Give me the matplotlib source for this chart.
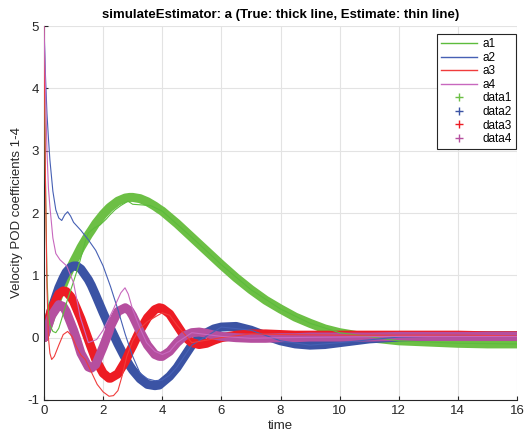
import matplotlib
matplotlib.use("Agg")
import matplotlib.pyplot as plt
from matplotlib.lines import Line2D

plt.rcParams['font.family'] = ['Liberation Sans', 'DejaVu Sans']
plt.rcParams['axes.unicode_minus'] = False

# true coefficients (thick)
t_true = [0, 0.25, 0.5, 0.65, 0.75, 0.9, 1.0, 1.1, 1.25, 1.5, 1.6, 1.75, 2.0, 2.2, 2.25,
          2.5, 2.75, 2.9, 3.0, 3.25, 3.5, 3.75, 3.9, 4.0, 4.25, 4.5, 4.75, 5.0, 5.25, 5.5,
          5.75, 6.0, 6.5, 7, 7.5, 8, 8.5, 9, 9.5, 10, 11, 12, 13, 14, 15, 16]
a1_true = [0, 0.35, 0.68, 0.85, 0.97, 1.12, 1.22, 1.31, 1.45, 1.65, 1.72, 1.83, 1.98, 2.08,
           2.1, 2.19, 2.24, 2.25, 2.25, 2.23, 2.18, 2.11, 2.06, 2.03, 1.93, 1.83, 1.72, 1.61,
           1.5, 1.39, 1.28, 1.17, 0.96, 0.77, 0.6, 0.46, 0.33, 0.23, 0.14, 0.08, 0.0, -0.05,
           -0.07, -0.09, -0.1, -0.1]
a2_true = [0, 0.45, 0.8, 0.96, 1.05, 1.13, 1.15, 1.15, 1.1, 0.93, 0.84, 0.68, 0.4, 0.19,
           0.15, -0.1, -0.33, -0.45, -0.52, -0.66, -0.75, -0.77, -0.76, -0.72, -0.62, -0.48,
           -0.3, -0.12, 0.0, 0.08, 0.14, 0.17, 0.18, 0.12, 0.03, -0.05, -0.1, -0.12, -0.11,
           -0.08, -0.02, 0.01, 0.02, 0.03, 0.03, 0.03]
a3_true = [0, 0.45, 0.7, 0.75, 0.74, 0.66, 0.58, 0.47, 0.3, -0.03, -0.16, -0.35, -0.57,
           -0.65, -0.65, -0.58, -0.38, -0.22, -0.13, 0.12, 0.32, 0.45, 0.48, 0.47, 0.38,
           0.2, 0.02, -0.08, -0.11, -0.09, -0.04, 0.0, 0.04, 0.06, 0.06, 0.05, 0.04, 0.04,
           0.04, 0.04, 0.04, 0.04, 0.04, 0.04, 0.03, 0.03]
a4_true = [0, 0.35, 0.53, 0.5, 0.42, 0.24, 0.12, -0.02, -0.25, -0.47, -0.49, -0.43, -0.15,
           0.1, 0.18, 0.42, 0.48, 0.43, 0.35, 0.1, -0.12, -0.27, -0.3, -0.3, -0.22, -0.08,
           0.03, 0.08, 0.09, 0.07, 0.04, 0.02, 0.0, -0.01, -0.01, 0.0, 0.0, 0.01, 0.01,
           0.01, 0.01, 0.02, 0.02, 0.02, 0.02, 0.02]

# estimates (thin)
t_e1 = [0, 0.05, 0.1, 0.15, 0.2, 0.3, 0.4, 0.5, 0.65, 0.8, 1.0, 1.2, 1.4, 1.5, 1.7, 1.9,
        2.1, 2.23, 2.4, 2.6, 2.74, 2.84, 3.0, 3.3, 3.6, 4.0, 5, 6, 7, 8, 9, 10, 12, 14, 16]
a1_est = [5.0, 2.5, 1.0, 0.4, 0.2, 0.1, 0.08, 0.15, 0.38, 0.62, 0.9, 1.2, 1.55, 1.68, 1.76,
          1.81, 1.9, 1.97, 2.05, 2.12, 2.16, 2.19, 2.14, 2.13, 2.12, 2.03, 1.61, 1.17, 0.77,
          0.46, 0.23, 0.08, -0.05, -0.09, -0.1]
t_e2 = [0, 0.05, 0.1, 0.15, 0.2, 0.3, 0.4, 0.5, 0.6, 0.7, 0.8, 0.9, 1.0, 1.25, 1.5, 1.75,
        2.0, 2.25, 2.5, 2.75, 3.0, 3.25, 3.5, 3.75, 4.0, 4.25, 4.5, 5, 6, 7, 8, 9, 10, 12,
        14, 16]
a2_est = [5.0, 4.2, 3.6, 3.2, 2.85, 2.35, 2.05, 1.92, 1.88, 1.97, 2.02, 1.95, 1.85, 1.72,
          1.57, 1.4, 1.15, 0.82, 0.45, 0.05, -0.3, -0.57, -0.66, -0.69, -0.68, -0.6, -0.47,
          -0.12, 0.17, 0.12, -0.05, -0.12, -0.08, 0.01, 0.03, 0.03]
t_e3 = [0, 0.05, 0.1, 0.15, 0.2, 0.26, 0.35, 0.5, 0.65, 0.8, 0.95, 1.1, 1.25, 1.4, 1.6,
        1.8, 2.0, 2.2, 2.35, 2.5, 2.65, 2.8, 3.0, 3.25, 3.5, 3.75, 4.0, 4.25, 4.5, 5, 6, 7,
        8, 10, 12, 14, 16]
a3_est = [5.0, 2.5, 0.8, 0.0, -0.25, -0.35, -0.3, -0.12, 0.05, 0.1, 0.02, -0.15, -0.28,
          -0.35, -0.55, -0.75, -0.87, -0.94, -0.93, -0.85, -0.6, -0.3, -0.05, 0.15, 0.26,
          0.33, 0.4, 0.36, 0.2, -0.08, 0.0, 0.06, 0.05, 0.04, 0.04, 0.04, 0.03]
t_e4 = [0, 0.05, 0.1, 0.15, 0.2, 0.3, 0.4, 0.54, 0.77, 1.0, 1.22, 1.5, 1.78, 2.0, 2.34,
        2.6, 2.74, 2.85, 3.0, 3.25, 3.47, 3.75, 4.0, 4.25, 4.5, 5, 6, 7, 8, 10, 12, 14, 16]
a4_est = [5.0, 4.0, 3.0, 2.4, 2.1, 1.6, 1.35, 1.25, 1.15, 0.88, 0.34, -0.08, -0.03, 0.12,
          0.45, 0.72, 0.8, 0.7, 0.45, 0.15, -0.08, -0.22, -0.27, -0.22, -0.08, 0.08, 0.02,
          -0.01, 0.0, 0.01, 0.02, 0.02, 0.02]

thick_colors = ['#6cbf45', '#3b53a4', '#ed1c24', '#b54f9f']
thin_colors = ['#5cbc3c', '#4660b4', '#f03c3c', '#c868be']

fig = plt.figure(figsize=(5.29, 4.38), dpi=100)
ax = fig.add_axes([44 / 529, 38 / 438, 473 / 529, 374 / 438])

trues = [a1_true, a2_true, a3_true, a4_true]
ests = [(t_e1, a1_est), (t_e2, a2_est), (t_e3, a3_est), (t_e4, a4_est)]

for y, c in zip(trues, thick_colors):
    ax.plot(t_true, y, color=c, lw=6.5, solid_joinstyle='round',
            solid_capstyle='round', zorder=2)
for (t, y), c in zip(ests, thin_colors):
    ax.plot(t, y, color=c, lw=0.8, zorder=3)

ax.set_xlim(0, 16)
ax.set_ylim(-1, 5)
ax.set_xticks(range(0, 17, 2))
ax.set_yticks(range(-1, 6))
ax.grid(True, color='#e3e3e3', lw=0.8)
ax.set_axisbelow(True)
for s in ['top', 'right']:
    ax.spines[s].set_visible(False)
for s in ['left', 'bottom']:
    ax.spines[s].set_color('#262626')
    ax.spines[s].set_linewidth(0.8)
ax.tick_params(direction='in', length=3, width=0.8, color='#262626',
               labelcolor='#262626', labelsize=9.5)

ax.set_xlabel('time', fontsize=9.5, color='#262626', labelpad=2)
ax.set_ylabel('Velocity POD coefficients 1-4', fontsize=9.5, color='#262626', labelpad=3)
ax.set_title('simulateEstimator: a (True: thick line, Estimate: thin line)',
             fontsize=9.5, fontweight='bold', pad=6)

handles = [Line2D([], [], color=c, lw=1) for c in thin_colors]
handles += [Line2D([], [], color=c, ls='none', marker='+', ms=6, mew=1)
            for c in thick_colors]
labels = ['a1', 'a2', 'a3', 'a4', 'data1', 'data2', 'data3', 'data4']
leg = ax.legend(handles, labels, loc='upper right', bbox_to_anchor=(0.998, 0.978),
                borderaxespad=0, fontsize=8.5, handlelength=3.0, handletextpad=0.5,
                labelspacing=0.13, fancybox=False, framealpha=1, edgecolor='#262626',
                borderpad=0.35)
leg.get_frame().set_linewidth(0.8)

fig.savefig('out.png', dpi=100)
